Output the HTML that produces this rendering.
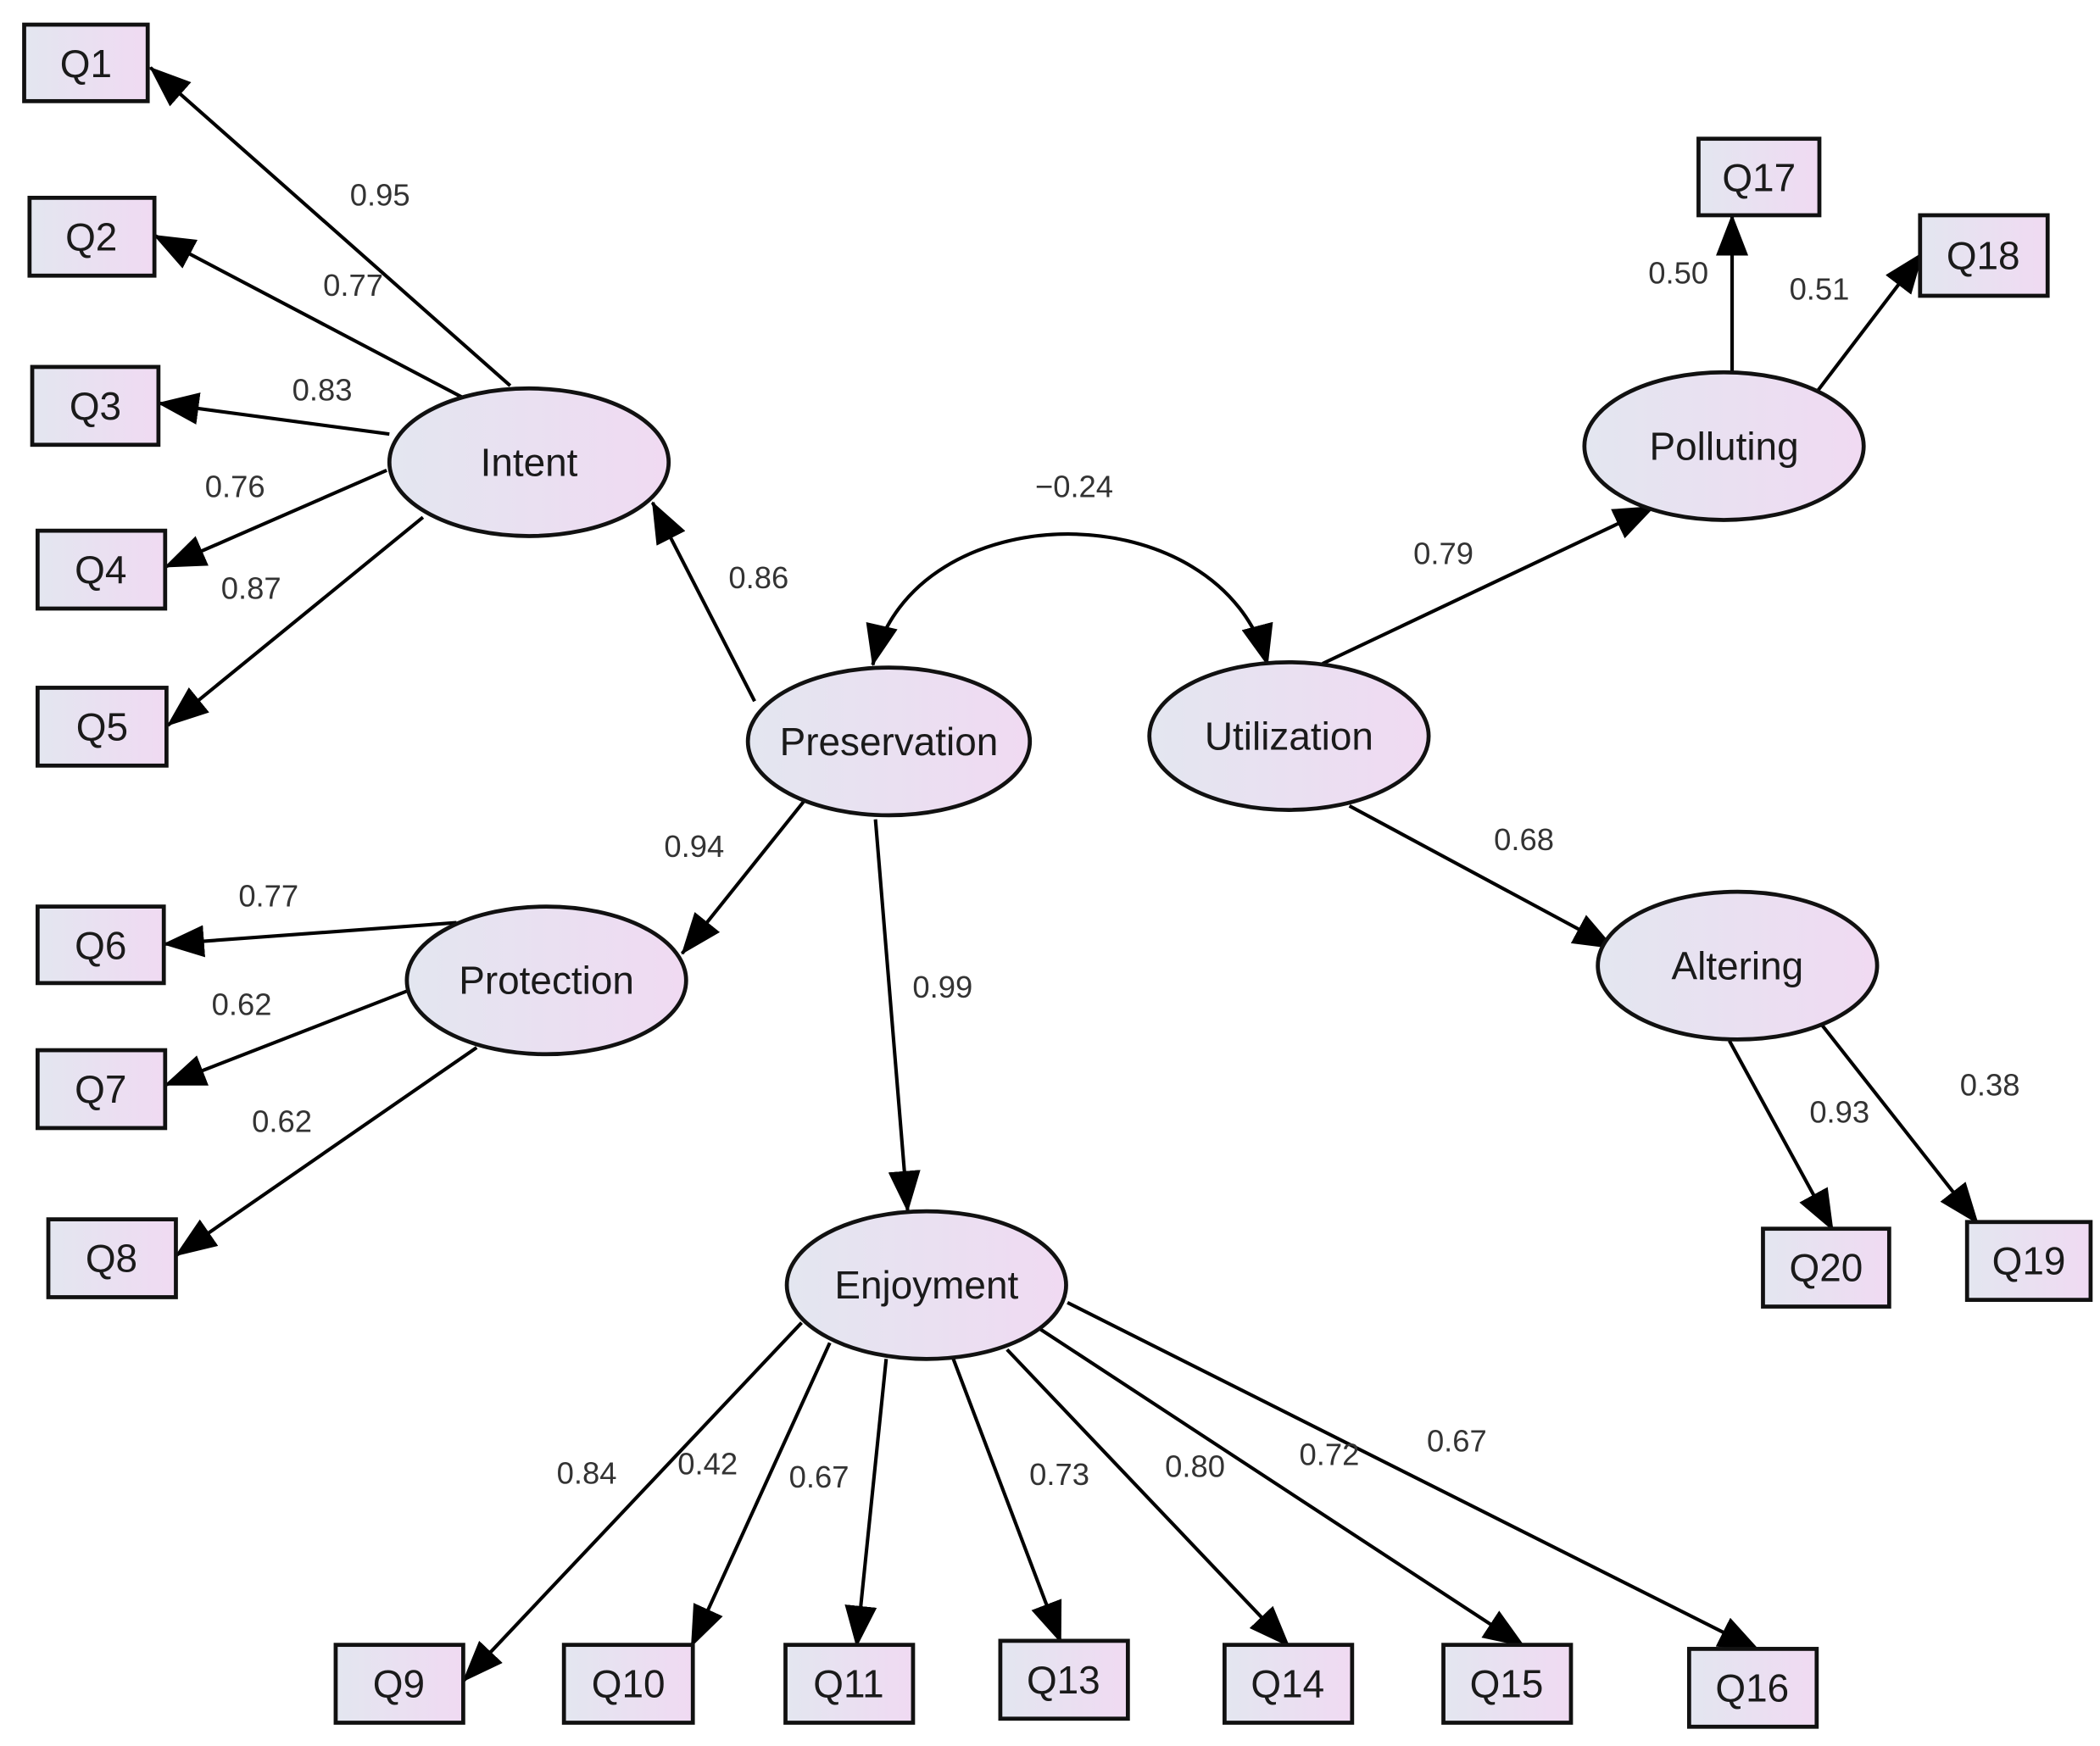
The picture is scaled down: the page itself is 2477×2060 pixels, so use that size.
<!DOCTYPE html>
<html><head><meta charset="utf-8"><style>
html,body{margin:0;padding:0;background:#fff;}
svg{display:block;}
text{font-family:"Liberation Sans",Arial,sans-serif;fill:#1a1a1a;}
.n{font-size:29px;text-anchor:middle;dominant-baseline:central;}
.l{font-size:23px;text-anchor:middle;dominant-baseline:central;fill:#333;}
.e{stroke:#000;stroke-width:2.6;fill:none;marker-end:url(#ah);}
.b{stroke:#111;stroke-width:3;fill:url(#g);}
</style></head><body>
<svg width="2477" height="2060" viewBox="0 0 1564 1300" xmlns="http://www.w3.org/2000/svg">
<defs>
<linearGradient id="g" x1="0" y1="0" x2="1" y2="0">
<stop offset="0" stop-color="#e3e6f0"/><stop offset="1" stop-color="#f0daf2"/>
</linearGradient>
<marker id="ah" markerUnits="userSpaceOnUse" markerWidth="32" markerHeight="24" refX="30" refY="12" orient="auto">
<path d="M0,0 L31,12 L0,24 Z" fill="#000"/>
</marker>
<marker id="as" markerUnits="userSpaceOnUse" markerWidth="32" markerHeight="24" refX="1" refY="12" orient="auto">
<path d="M31,0 L0,12 L31,24 Z" fill="#000"/>
</marker>
</defs>

<!-- edges -->
<line class="e" x1="380" y1="287" x2="112" y2="50"/>
<line class="e" x1="345" y1="296" x2="115" y2="175"/>
<line class="e" x1="290" y1="323" x2="118" y2="300"/>
<line class="e" x1="288" y1="350" x2="123" y2="422"/>
<line class="e" x1="315" y1="385" x2="125" y2="540"/>
<line class="e" x1="562" y1="522" x2="486" y2="374"/>
<line class="e" x1="600" y1="595" x2="508" y2="710"/>
<line class="e" x1="652" y1="610" x2="676" y2="902"/>
<path d="M650,495 C680,365 910,365 944,495" stroke="#000" stroke-width="2.6" fill="none" marker-start="url(#as)" marker-end="url(#ah)"/>
<line class="e" x1="985" y1="494" x2="1232" y2="377"/>
<line class="e" x1="1290" y1="276" x2="1290" y2="160"/>
<line class="e" x1="1352" y1="293" x2="1432" y2="188"/>
<line class="e" x1="1005" y1="600" x2="1202" y2="706"/>
<line class="e" x1="1288" y1="775" x2="1365" y2="916"/>
<line class="e" x1="1352" y1="757" x2="1473" y2="911"/>
<line class="e" x1="340" y1="687" x2="122" y2="703"/>
<line class="e" x1="303" y1="738" x2="123" y2="808"/>
<line class="e" x1="355" y1="780" x2="131" y2="935"/>
<line class="e" x1="597" y1="985" x2="345" y2="1252"/>
<line class="e" x1="618" y1="1000" x2="515" y2="1226"/>
<line class="e" x1="660" y1="1012" x2="638" y2="1226"/>
<line class="e" x1="710" y1="1012" x2="790" y2="1223"/>
<line class="e" x1="750" y1="1005" x2="960" y2="1226"/>
<line class="e" x1="775" y1="990" x2="1135" y2="1226"/>
<line class="e" x1="795" y1="970" x2="1310" y2="1229"/>

<!-- boxes -->
<g>
<rect class="b" x="18" y="18" width="92" height="57"/><text class="n" x="64" y="47">Q1</text>
<rect class="b" x="22" y="147" width="93" height="58"/><text class="n" x="68" y="176">Q2</text>
<rect class="b" x="24" y="273" width="94" height="58"/><text class="n" x="71" y="302">Q3</text>
<rect class="b" x="28" y="395" width="95" height="58"/><text class="n" x="75" y="424">Q4</text>
<rect class="b" x="28" y="512" width="96" height="58"/><text class="n" x="76" y="541">Q5</text>
<rect class="b" x="28" y="675" width="94" height="57"/><text class="n" x="75" y="704">Q6</text>
<rect class="b" x="28" y="782" width="95" height="58"/><text class="n" x="75" y="811">Q7</text>
<rect class="b" x="36" y="908" width="95" height="58"/><text class="n" x="83" y="937">Q8</text>
<rect class="b" x="250" y="1225" width="95" height="58"/><text class="n" x="297" y="1254">Q9</text>
<rect class="b" x="420" y="1225" width="96" height="58"/><text class="n" x="468" y="1254">Q10</text>
<rect class="b" x="585" y="1225" width="95" height="58"/><text class="n" x="632" y="1254">Q11</text>
<rect class="b" x="745" y="1222" width="95" height="58"/><text class="n" x="792" y="1251">Q13</text>
<rect class="b" x="912" y="1225" width="95" height="58"/><text class="n" x="959" y="1254">Q14</text>
<rect class="b" x="1075" y="1225" width="95" height="58"/><text class="n" x="1122" y="1254">Q15</text>
<rect class="b" x="1258" y="1228" width="95" height="58"/><text class="n" x="1305" y="1257">Q16</text>
<rect class="b" x="1265" y="103" width="90" height="57"/><text class="n" x="1310" y="132">Q17</text>
<rect class="b" x="1430" y="160" width="95" height="60"/><text class="n" x="1477" y="190">Q18</text>
<rect class="b" x="1313" y="915" width="94" height="58"/><text class="n" x="1360" y="944">Q20</text>
<rect class="b" x="1465" y="910" width="92" height="58"/><text class="n" x="1511" y="939">Q19</text>
</g>

<!-- ellipses -->
<ellipse class="b" cx="394" cy="344" rx="104" ry="55"/><text class="n" x="394" y="344">Intent</text>
<ellipse class="b" cx="662" cy="552" rx="105" ry="55"/><text class="n" x="662" y="552">Preservation</text>
<ellipse class="b" cx="960" cy="548" rx="104" ry="55"/><text class="n" x="960" y="548">Utilization</text>
<ellipse class="b" cx="1284" cy="332" rx="104" ry="55"/><text class="n" x="1284" y="332">Polluting</text>
<ellipse class="b" cx="1294" cy="719" rx="104" ry="55"/><text class="n" x="1294" y="719">Altering</text>
<ellipse class="b" cx="407" cy="730" rx="104" ry="55"/><text class="n" x="407" y="730">Protection</text>
<ellipse class="b" cx="690" cy="957" rx="104" ry="55"/><text class="n" x="690" y="957">Enjoyment</text>

<!-- labels -->
<text class="l" x="283" y="145">0.95</text>
<text class="l" x="263" y="212">0.77</text>
<text class="l" x="240" y="290">0.83</text>
<text class="l" x="175" y="362">0.76</text>
<text class="l" x="187" y="438">0.87</text>
<text class="l" x="565" y="430">0.86</text>
<text class="l" x="517" y="630">0.94</text>
<text class="l" x="702" y="735">0.99</text>
<text class="l" x="800" y="362">−0.24</text>
<text class="l" x="1075" y="412">0.79</text>
<text class="l" x="1250" y="203">0.50</text>
<text class="l" x="1355" y="215">0.51</text>
<text class="l" x="1135" y="625">0.68</text>
<text class="l" x="1370" y="828">0.93</text>
<text class="l" x="1482" y="808">0.38</text>
<text class="l" x="200" y="667">0.77</text>
<text class="l" x="180" y="748">0.62</text>
<text class="l" x="210" y="835">0.62</text>
<text class="l" x="437" y="1097">0.84</text>
<text class="l" x="527" y="1090">0.42</text>
<text class="l" x="610" y="1100">0.67</text>
<text class="l" x="789" y="1098">0.73</text>
<text class="l" x="890" y="1092">0.80</text>
<text class="l" x="990" y="1083">0.72</text>
<text class="l" x="1085" y="1073">0.67</text>
</svg>
</body></html>
